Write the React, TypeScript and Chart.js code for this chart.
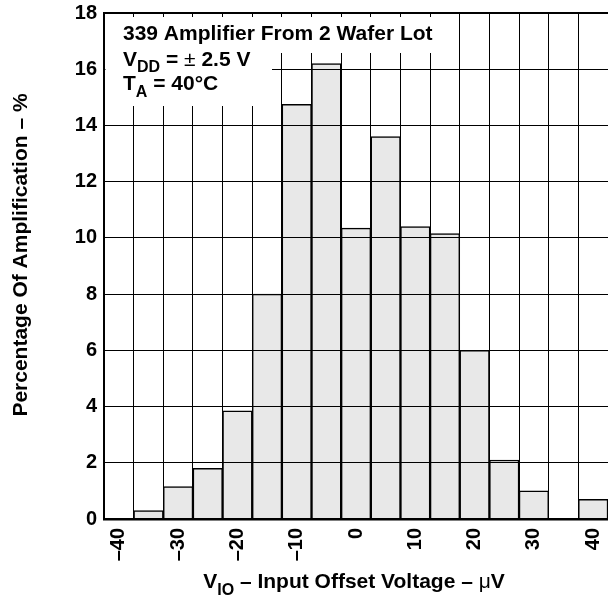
import { useEffect, useRef } from 'react';
import { Chart, registerables } from 'chart.js';

Chart.register(...registerables);

// Histogram bins (centers, µV) and percentage of amplifiers in each bin
const binCenters = [-40, -35, -30, -25, -20, -15, -10, -5, 0, 5, 10, 15, 20, 25, 30, 35, 40];
const percentages = [0, 0.3, 1.15, 1.8, 3.85, 8.0, 14.75, 16.2, 10.35, 13.6, 10.4, 10.15, 6.0, 2.1, 1.0, 0, 0.7];
const yMin = 0;
const yMax = 18;
const yStep = 2;
const xLabelEvery = 10;

const annotationLines = ['339 Amplifier From 2 Wafer Lot'];
const xTitle = { main: 'V', sub: 'IO', rest: ' \u2013 Input Offset Voltage \u2013 ', mu: '\u03bc', unit: 'V' };
const yTitle = 'Percentage Of Amplification \u2013 %';

const FAMILY = '"Liberation Sans", Arial, Helvetica, sans-serif';
const bold = (s: number) => `bold ${s}px ${FAMILY}`;
const normal = (s: number) => `normal ${s}px ${FAMILY}`;

type Run = { text: string; font: string; dy?: number };

function runsWidth(ctx: CanvasRenderingContext2D, runs: Run[]) {
  let w = 0;
  for (const r of runs) {
    ctx.font = r.font;
    w += ctx.measureText(r.text).width;
  }
  return w;
}

function drawRuns(ctx: CanvasRenderingContext2D, x: number, y: number, runs: Run[]) {
  let cx = x;
  for (const r of runs) {
    ctx.font = r.font;
    ctx.fillText(r.text, cx, y + (r.dy || 0));
    cx += ctx.measureText(r.text).width;
  }
}

const textPlugin = {
  id: 'textPlugin',
  afterDraw(chart: any) {
    const ctx: CanvasRenderingContext2D = chart.ctx;
    const a = chart.chartArea;
    ctx.save();
    // white boxes behind the annotation
    ctx.fillStyle = '#fff';
    ctx.fillRect(a.left + 1.5, a.top + 4, 437 - a.left - 1.5, 36);
    ctx.fillRect(a.left + 1.5, a.top + 38, 272 - a.left - 1.5, 55);

    ctx.fillStyle = '#000';
    ctx.textAlign = 'left';
    ctx.textBaseline = 'alphabetic';
    const tx = a.left + 19;
    drawRuns(ctx, tx, a.top + 27, [{ text: annotationLines[0], font: bold(21) }]);
    drawRuns(ctx, tx, a.top + 53, [
      { text: 'V', font: bold(21) },
      { text: 'DD', font: bold(16), dy: 6 },
      { text: ' = ', font: bold(21) },
      { text: '\u00b1', font: normal(21) },
      { text: ' 2.5 V', font: bold(21) },
    ]);
    drawRuns(ctx, tx, a.top + 77, [
      { text: 'T', font: bold(21) },
      { text: 'A', font: bold(16), dy: 7 },
      { text: ' = 40\u00b0C', font: bold(21) },
    ]);

    // x axis title
    const xRuns: Run[] = [
      { text: xTitle.main, font: bold(21) },
      { text: xTitle.sub, font: bold(16), dy: 7 },
      { text: xTitle.rest, font: bold(21) },
      { text: xTitle.mu, font: normal(21) },
      { text: xTitle.unit, font: bold(21) },
    ];
    const w = runsWidth(ctx, xRuns);
    const cx = (a.left + a.right) / 2 - 2;
    drawRuns(ctx, cx - w / 2, a.bottom + 69, xRuns);

    // y axis title
    ctx.save();
    ctx.translate(27, 255);
    ctx.rotate(-Math.PI / 2);
    ctx.textAlign = 'center';
    ctx.font = bold(21);
    ctx.fillText(yTitle, 0, 0);
    ctx.restore();

    ctx.restore();
  },
};

export default function App() {
  const ref = useRef<HTMLCanvasElement>(null);
  useEffect(() => {
    const chart = new Chart(ref.current as HTMLCanvasElement, {
      type: 'bar',
      data: {
        labels: binCenters.map(String),
        datasets: [
          {
            data: percentages,
            backgroundColor: '#e8e8e8',
            borderColor: '#000',
            borderWidth: 1.5,
            barPercentage: 1,
            categoryPercentage: 1,
          },
        ],
      },
      options: {
        responsive: false,
        animation: false,
        layout: { padding: { top: 13, left: 0, right: 0, bottom: 0 } },
        plugins: { legend: { display: false }, tooltip: { enabled: false } },
        scales: {
          x: {
            offset: true,
            grid: { offset: true, color: '#000', lineWidth: 1, drawTicks: false, z: 1 },
            border: { color: '#000', width: 2.5, z: 2 },
            ticks: {
              autoSkip: false,
              minRotation: 90,
              maxRotation: 90,
              padding: 9,
              color: '#000',
              font: { family: FAMILY, size: 20, weight: 'bold' },
              callback: (_v: any, i: number) => {
                const c = binCenters[i];
                if (c % xLabelEvery !== 0) return '';
                return c < 0 ? '\u2013' + Math.abs(c) : String(c);
              },
            },
            afterFit: (s: any) => {
              s.height = 78;
              s.paddingLeft = 0;
              s.paddingRight = 0;
            },
          },
          y: {
            min: yMin,
            max: yMax,
            grid: {
              color: '#000',
              lineWidth: (c: any) => (c.tick && c.tick.value === yMax ? 2 : 1),
              drawTicks: false,
              z: 1,
            },
            border: { color: '#000', width: 2, z: 2 },
            ticks: {
              stepSize: yStep,
              padding: 7,
              color: '#000',
              font: { family: FAMILY, size: 20, weight: 'bold' },
            },
            afterFit: (s: any) => {
              s.width = 104;
              s.paddingTop = 0;
              s.paddingBottom = 0;
            },
          },
        },
      } as any,
      plugins: [textPlugin],
    });
    return () => chart.destroy();
  }, []);
  return (
    <div style={{ position: 'absolute', left: 0, top: 0, width: 608, height: 597, background: '#fff' }}>
      <canvas ref={ref} width={608} height={597} />
    </div>
  );
}
